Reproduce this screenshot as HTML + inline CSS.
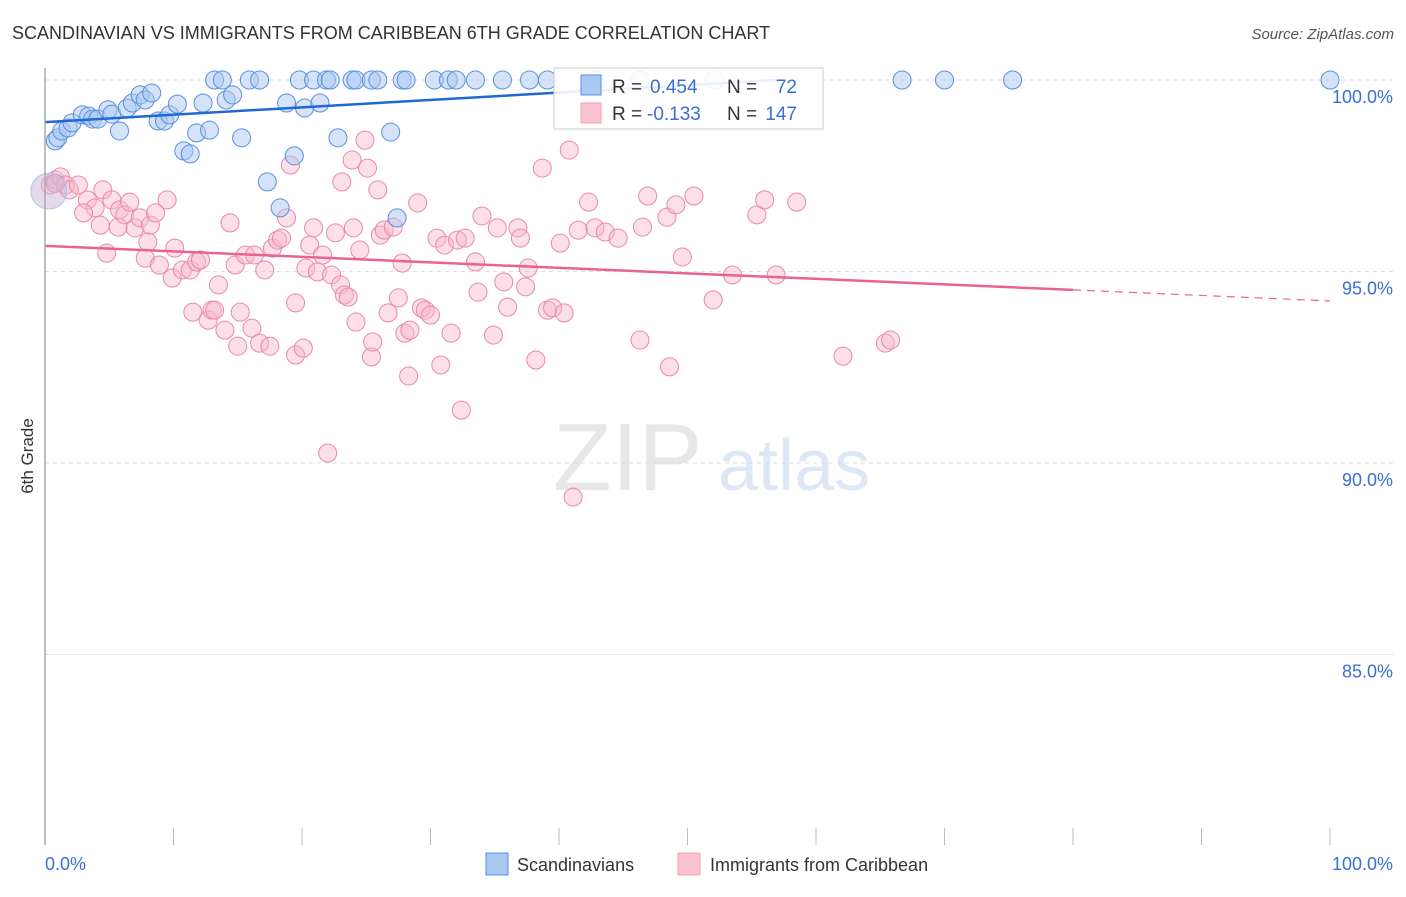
<!DOCTYPE html>
<html><head><meta charset="utf-8"><style>
body{margin:0;background:#fff;font-family:"Liberation Sans",sans-serif}
svg text{font-family:"Liberation Sans",sans-serif}
</style></head><body>
<svg id="chart" width="1406" height="892" viewBox="0 0 1406 892" xmlns="http://www.w3.org/2000/svg">
<text x="12" y="39" font-size="18" fill="#333">SCANDINAVIAN VS IMMIGRANTS FROM CARIBBEAN 6TH GRADE CORRELATION CHART</text>
<text x="1394" y="39" font-size="15" fill="#555" text-anchor="end" font-style="italic">Source: ZipAtlas.com</text>
<g id="grid"></g>
<text x="553" y="490" font-size="96" fill="#ddd" font-family="Liberation Serif" opacity="0.7">ZIP</text>
<text x="718" y="490" font-size="72" fill="#c8d8f0" opacity="0.6">atlas</text>
<g id="pts"></g>
<g id="lines"></g>
<line x1="45" y1="68" x2="45" y2="845" stroke="#aaa" stroke-width="1.5"/>
<text transform="translate(33,456) rotate(-90)" font-size="17" fill="#333" text-anchor="middle">6th Grade</text>
<text x="45" y="870" font-size="18" fill="#3a6fd8">0.0%</text>
<text x="1393" y="870" font-size="18" fill="#3a6fd8" text-anchor="end">100.0%</text>
<g>
<rect x="554" y="68" width="269" height="61" fill="#fff" fill-opacity="0.9" stroke="#ccc"/>
<rect x="581" y="75" width="20" height="20" fill="#aac8f0" stroke="#5b8fe0"/>
<rect x="581" y="103" width="20" height="20" fill="#f9c3d2" stroke="#f0a0b8"/>
<text x="612" y="93" font-size="19" fill="#333">R =</text>
<text x="650" y="93" font-size="19" fill="#3a6fd8">0.454</text>
<text x="727" y="93" font-size="19" fill="#333">N =</text>
<text x="797" y="93" font-size="19" fill="#3a6fd8" text-anchor="end">72</text>
<text x="612" y="120" font-size="19" fill="#333">R =</text>
<text x="647" y="120" font-size="19" fill="#3a6fd8">-0.133</text>
<text x="727" y="120" font-size="19" fill="#333">N =</text>
<text x="797" y="120" font-size="19" fill="#3a6fd8" text-anchor="end">147</text>
</g>
<g>
<rect x="486" y="853" width="22" height="22" fill="#aac8f0" stroke="#5b8fe0"/>
<text x="517" y="871" font-size="18" fill="#333">Scandinavians</text>
<rect x="678" y="853" width="22" height="22" fill="#f9c3d2" stroke="#f0a0b8"/>
<text x="710" y="871" font-size="18" fill="#333">Immigrants from Caribbean</text>
</g>
</svg>
<script>
const yTicks=[100,95,90,85];
const yTickLabels=["100.0%","95.0%","90.0%","85.0%"];
const xTicks=[0,10,20,30,40,50,60,70,80,90,100];
const blueX=[13.2,13.8,15.9,16.7,19.8,20.9,21.9,22.2,23.9,24.2,25.4,25.9,27.8,28.1,30.3,31.4,32.0,33.5,35.6,37.7,39.1,42.9,46.3,52.1,66.7,70.0,75.3,100,
0.8,1.0,1.3,1.8,2.1,2.9,3.4,3.7,4.1,4.9,5.2,5.8,6.4,6.8,7.4,7.8,8.3,8.8,9.3,9.7,10.3,10.8,11.3,11.8,12.3,12.8,14.1,14.6,15.3,17.3,18.3,18.8,19.4,20.2,21.4,22.8,26.9,27.4];
const blueY=[100,100,100,100,100,100,100,100,100,100,100,100,100,100,100,100,100,100,100,100,100,100,100,100,100,100,100,100,
98.41,98.49,98.67,98.75,98.88,99.09,99.06,98.98,98.98,99.22,99.11,98.67,99.27,99.40,99.61,99.48,99.66,98.93,98.93,99.09,99.37,98.15,98.07,98.62,99.40,98.69,99.48,99.61,98.49,97.34,96.66,99.40,98.02,99.27,99.40,98.49,98.64,96.40];
const pinkX=[0.4,0.8,1.2,1.6,1.9,2.6,3.3,3.9,4.5,3.0,4.3,4.8,5.2,5.7,5.8,6.2,6.6,7.0,7.4,7.8,8.0,8.2,8.6,8.9,9.5,9.9,10.1,10.7,11.3,11.8,12.1,11.5,12.7,13.0,13.2,13.5,14.0,14.4,14.8,15.2,15.0,15.6,16.1,16.3,16.7,17.1,17.5,17.7,18.1,18.4,18.8,19.1,19.5,19.5,20.1,20.3,20.6,20.9,21.2,21.6,22.0,22.3,22.6,23.0,23.3,23.1,23.6,23.9,24.0,24.2,24.5,24.9,25.1,25.4,25.5,25.9,26.1,26.4,26.7,27.1,27.5,27.8,28.0,28.3,28.4,29.0,29.3,29.6,30.0,30.5,30.8,31.1,31.6,32.1,32.4,32.7,33.5,33.7,34.0,34.9,35.2,35.7,36.0,36.8,37.0,37.4,37.6,38.2,38.7,39.1,39.5,40.1,40.4,40.8,41.1,41.5,42.3,42.8,43.6,44.6,46.3,46.5,46.9,48.4,48.6,49.1,49.6,50.5,52.0,53.5,55.4,56.0,56.9,58.5,62.1,65.4,65.8,0.8];
const pinkY=[97.26,97.39,97.47,97.26,97.13,97.26,96.87,96.66,97.13,96.53,96.21,95.48,96.87,96.16,96.61,96.48,96.81,96.14,96.40,95.35,95.77,96.21,96.53,95.17,96.87,94.83,95.61,95.04,95.04,95.25,95.30,93.94,93.73,93.99,93.99,94.65,93.47,96.27,95.17,93.94,93.05,95.43,93.52,95.43,93.13,95.04,93.05,95.61,95.82,95.87,96.40,97.78,94.18,92.82,93.00,95.09,95.69,96.14,94.99,95.43,90.26,94.91,96.01,94.65,94.39,97.34,94.33,97.91,96.14,93.68,95.56,98.43,97.70,92.77,93.16,97.13,95.95,96.08,93.92,96.16,94.31,95.22,93.39,92.27,93.47,96.79,94.05,93.99,93.86,95.87,92.56,95.69,93.39,95.82,91.38,95.87,95.25,94.46,96.45,93.34,96.14,94.73,94.07,96.14,95.87,94.60,95.09,92.69,97.70,93.99,94.05,95.74,93.92,98.17,89.11,96.08,96.81,96.14,96.03,95.87,93.21,96.16,96.97,96.42,92.51,96.74,95.38,96.97,94.26,94.91,96.48,96.87,94.91,96.81,92.79,93.13,93.21,97.30];
const blueTrend=[[0,98.9],[57,100.0]];
const pinkTrend=[[0,95.67],[80,94.52]];
const pinkTrendDash=[[80,94.52],[100,94.23]];
const NS="http://www.w3.org/2000/svg";
const sx=v=>45+v*12.85;
const sy=v=>80+(100-v)*38.3;
function mk(t,a,p){const e=document.createElementNS(NS,t);for(const k in a)e.setAttribute(k,a[k]);p.appendChild(e);return e;}
const grid=document.getElementById('grid');
yTicks.forEach((t,i)=>{
 const l=mk('line',{x1:45,x2:1393,y1:sy(t),y2:sy(t),stroke:'#ddd','stroke-dasharray':'4,4'},grid);
 
 
 const tx=mk('text',{x:1393,y:sy(t)+23,'font-size':18,fill:'#3a6fd8','text-anchor':'end'},grid);
 tx.textContent=yTickLabels[i];
 
 
});
xTicks.forEach(t=>{
 const l=mk('line',{x1:sx(t),x2:sx(t),y1:828,y2:845,stroke:'#bbb'},grid);
 
 
});
const pts=document.getElementById('pts');
pinkX.forEach((x,i)=>{
 const c=mk('circle',{cx:sx(x),cy:sy(pinkY[i]),r:9,fill:'#f9b8cb','fill-opacity':0.45,stroke:'#e889a8','stroke-width':1},pts);
 
 
});
blueX.forEach((x,i)=>{
 const c=mk('circle',{cx:sx(x),cy:sy(blueY[i]),r:9,fill:'#a9c8f2','fill-opacity':0.5,stroke:'#5b8fe0','stroke-width':1},pts);
 
 
});
const big=mk('circle',{cx:sx(0.3),cy:sy(97.1),r:18,fill:'#c9b6d8','fill-opacity':0.5,stroke:'#b0c4ee'},pts);


const lines=document.getElementById('lines');
const b=mk('line',{x1:sx(blueTrend[0][0]),y1:sy(blueTrend[0][1]),x2:sx(blueTrend[1][0]),y2:sy(blueTrend[1][1]),stroke:'#1f68d6','stroke-width':2.5},lines);


const p=mk('line',{x1:sx(pinkTrend[0][0]),y1:sy(pinkTrend[0][1]),x2:sx(pinkTrend[1][0]),y2:sy(pinkTrend[1][1]),stroke:'#e8648f','stroke-width':2.5},lines);


const pd=mk('line',{x1:sx(pinkTrendDash[0][0]),y1:sy(pinkTrendDash[0][1]),x2:sx(pinkTrendDash[1][0]),y2:sy(pinkTrendDash[1][1]),stroke:'#e8648f','stroke-width':1.2,'stroke-dasharray':'8,6'},lines);


</script>
</body></html>
